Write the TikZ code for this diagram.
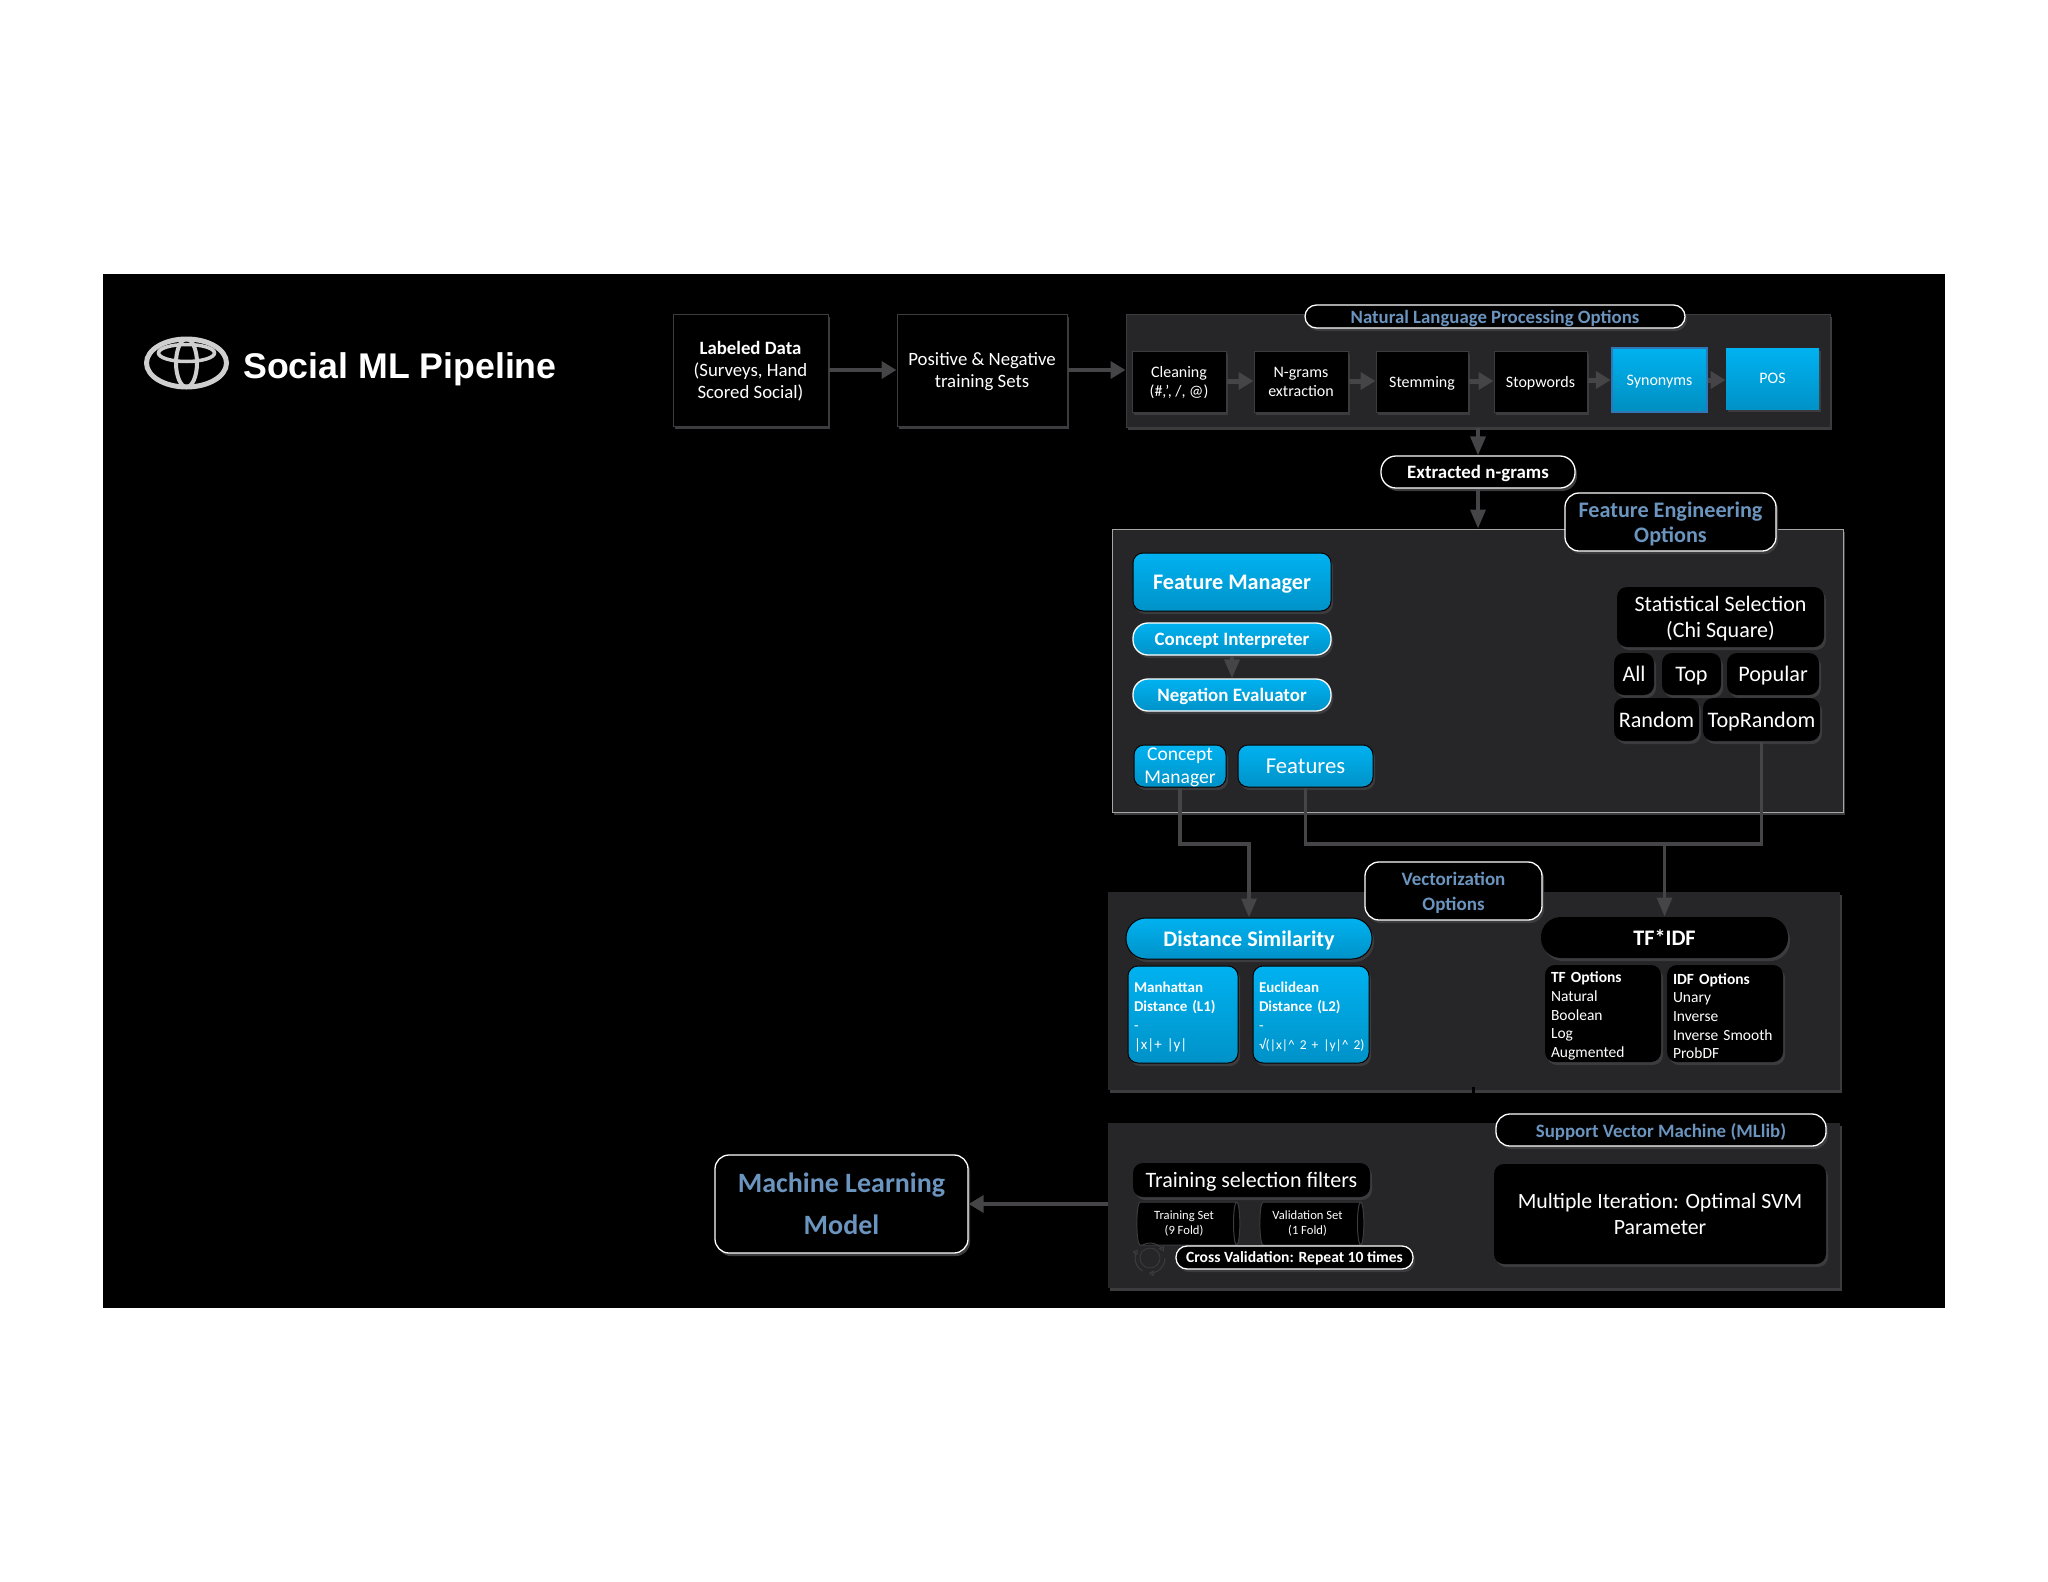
\documentclass[tikz,border=0pt]{standalone}
\usepackage{fontspec}
\setmainfont{Carlito}
\newfontfamily\titlefont{Liberation Sans}
\usetikzlibrary{arrows.meta,shadows,shapes.geometric}
\definecolor{skyb}{HTML}{00B2F0}
\definecolor{skyd}{HTML}{0092C8}
\definecolor{lblue}{HTML}{6B94BE}
\definecolor{panelc}{HTML}{262628}
\definecolor{linec}{HTML}{454547}
\definecolor{shad}{HTML}{3C3C3E}
\definecolor{silver}{HTML}{CFCFCF}
\definecolor{synb}{HTML}{2F78B8}
\newcommand{\fnt}[2]{\fontsize{#1}{#2}\selectfont}
\newcommand{\fnb}[2]{\fontsize{#1}{#2}\selectfont\bfseries}
\newcommand{\tp}{\rule{0pt}{16pt}}
\newcommand{\bx}[7][]{\node[#2,#1,minimum width={(#5-#3)*1pt},minimum height={(#6-#4)*1pt}] (#7) at ({(#3+#5)/2},{(#4+#6)/2})}
\tikzset{
  base/.style={inner sep=0pt,align=center,text=white,line width=1pt,text depth=0pt},
  leftcol/.style={text width=#1,align=left,inner xsep=6pt,text depth={}},
  shd/.style={drop shadow={shadow xshift=2pt,shadow yshift=-3pt,fill=shad,opacity=1}},
  panel/.style={base,fill=panelc,shd},
  blackbox/.style={base,fill=black,draw=shad,shd},
  softbox/.style={base,fill=black,rounded corners=#1,shd},
  softbox/.default=10pt,
  bluebox/.style={base,top color=skyb,bottom color=skyd,draw=black,rounded corners=#1,shd},
  bluebox/.default=10pt,
  tag/.style={base,fill=black,draw=white,line width=1.3pt,rounded corners=#1,shd},
  whitepill/.style={base,top color=skyb,bottom color=skyd,draw=white,line width=1.3pt,rounded corners=#1,shd},
  flow/.style={draw=linec,line width=#1,-{Triangle[length=15pt,width=17pt]}},
  flow/.default=4pt,
  wire/.style={draw=linec,line width=3.5pt},
  wirehead/.style={draw=linec,line width=3.5pt,-{Triangle[length=19pt,width=15pt]}},
  drum/.style={cylinder,shape border rotate=0,aspect=0.25,draw=shad,fill=black,text=white,inner sep=0pt,align=center,line width=1pt,font=\fontsize{12.6}{15}\selectfont},
}
\begin{document}
\begin{tikzpicture}[x=1pt,y=-1pt]
\useasboundingbox[fill=white] (0,0) rectangle (2048,1582);
\fill[black] (103,274) rectangle (1945,1308);

% logo
\draw[silver,line width=5pt] (186.5,363) ellipse [x radius=40,y radius=24];
\draw[silver,line width=3.5pt] (186.5,353) ellipse [x radius=28,y radius=8.5];
\draw[silver,line width=4pt] (186.5,363) ellipse [x radius=10.5,y radius=24];
\node[anchor=base west,inner sep=0pt,text=white,font=\titlefont\bfseries\fontsize{35.7}{40}\selectfont] (title) at (243,378) {Social ML Pipeline};

% panels
\bx[draw=shad]{panel}{1126}{314}{1830}{427}{nlp} {};
\bx[draw=silver!80!black]{panel}{1112}{529}{1843}{812}{feat} {};
\bx{panel}{1108}{892}{1840}{1090}{vect} {};
\bx{panel}{1108}{1123}{1840}{1288}{svm} {};
\fill[black] (1472,1087) rectangle (1475,1094);

% top row
\bx[font=\fnt{18.8}{22.3}]{blackbox}{673}{314}{828}{426}{labeled} {\textbf{Labeled Data}\\(Surveys, Hand\\Scored Social)};
\bx[font=\fnt{18.8}{22.3}]{blackbox}{897}{314}{1067}{426}{posneg} {Positive \& Negative\\training Sets};

\bx[font=\fnt{16}{19}]{blackbox}{1132}{351}{1226}{412}{clean} {Cleaning\\(\#,’, /, @)};
\bx[font=\fnt{16}{19}]{blackbox}{1254}{351}{1348}{412}{ngram} {N-grams\\extraction};
\bx[font=\fnt{16}{19}]{blackbox}{1376}{351}{1468}{412}{stem} {Stemming};
\bx[font=\fnt{16}{19}]{blackbox}{1494}{351}{1587}{412}{stop} {Stopwords};
\bx[font=\fnt{16}{19},draw=synb,line width=2.5pt,top color=skyb,bottom color=skyb!80!black]{base}{1612}{348}{1707}{412}{syn} {Synonyms};
\bx[font=\fnt{16}{19},top color=skyb,bottom color=skyd,shd]{base}{1726}{348}{1819}{409}{pos} {POS};

\bx[font=\fnb{18.8}{21},text=lblue]{tag=11.5pt}{1305}{305}{1685}{328}{nlpt} {Natural Language Processing Options};
\bx[font=\fnb{18.9}{22}]{tag=15pt}{1381}{456}{1575}{488}{extr} {Extracted n-grams};
\bx[font=\fnb{22.2}{25.5},text=lblue]{tag=14pt}{1565}{493}{1776}{551}{featt} {Feature Engineering\\Options};

% feature panel
\bx[font=\fnb{22.2}{26},text=white]{bluebox}{1133}{553}{1331}{611}{fm} {Feature Manager};
\bx[font=\fnb{18.9}{22}]{whitepill=15pt}{1133}{623}{1331}{655}{ci} {Concept Interpreter};
\bx[font=\fnb{18.9}{22}]{whitepill=15pt}{1133}{679}{1331}{711}{ne} {Negation Evaluator};
\bx[font=\fnt{19.5}{23}]{bluebox}{1134}{745}{1226}{787}{cm} {Concept\\Manager};
\bx[font=\fnt{22.7}{26}]{bluebox}{1238}{745}{1373}{787}{feats} {Features};
\bx[font=\fnt{22}{26}]{softbox}{1617}{587}{1824}{647}{stat} {Statistical Selection\\(Chi Square)};
\bx[font=\fnt{22.2}{26}]{softbox}{1614}{653}{1654}{695}{all} {All};
\bx[font=\fnt{22.2}{26}]{softbox}{1662}{653}{1721}{695}{top} {Top};
\bx[font=\fnt{22.2}{26}]{softbox}{1727}{653}{1819}{695}{pop} {Popular};
\bx[font=\fnt{22.2}{26}]{softbox}{1614}{698}{1699}{741}{rand} {Random};
\bx[font=\fnt{22.2}{26}]{softbox}{1703}{698}{1820}{741}{toprand} {TopRandom};

% vectorization panel
\bx[font=\fnt{19}{25},text=lblue]{tag=14pt}{1365}{862}{1542}{920}{vectt} {\textbf{Vectorization}\\\textbf{Options}};
\bx[font=\fnb{22.2}{28}]{bluebox=20pt}{1126}{918}{1372}{959}{dist} {Distance Similarity};
\bx[font=\fnb{22.2}{28},text=white]{softbox=20pt}{1541}{917}{1788}{958}{tfidf} {TF*IDF};
\bx[font=\fnt{15}{19},leftcol=98pt]{bluebox}{1128}{966}{1238}{1063}{man} {\tp\textbf{Manhattan}\\\textbf{Distance (L1)}\\-\\|x|+ |y|};
\bx[font=\fnt{15}{19},leftcol=104pt]{bluebox}{1253}{966}{1369}{1063}{euc} {\tp\textbf{Euclidean}\\\textbf{Distance (L2)}\\-\\\mbox{\fontsize{13.5}{19}\selectfont √(|x|\^{} 2 + |y|\^{} 2)}};
\bx[font=\fnt{15.5}{18.7},leftcol=104pt]{softbox}{1545}{965}{1661}{1062}{tfo} {\tp\textbf{TF Options}\\Natural\\Boolean\\Log\\Augmented};
\bx[font=\fnt{15.5}{18.7},leftcol=104pt]{softbox}{1667}{965}{1783}{1062}{idfo} {\tp\textbf{IDF Options}\\Unary\\Inverse\\Inverse Smooth\\ProbDF};

% svm panel
\bx[font=\fnb{18.9}{22},text=lblue]{tag=14pt}{1496}{1114}{1826}{1146}{svmt} {Support Vector Machine (MLlib)};
\bx[font=\fnb{28}{42},text=lblue]{tag=14pt}{715}{1155}{968}{1253}{ml} {Machine Learning\\Model};
\bx[font=\fnt{22}{26}]{softbox}{1133}{1163}{1370}{1197}{tsf} {Training selection filters};
\bx[font=\fnt{21.8}{26}]{softbox}{1494}{1164}{1826}{1264}{multi} {Multiple Iteration: Optimal SVM\\Parameter};
\node[drum,minimum height=103pt,minimum width=43pt] (trs) at (1186.5,1223.5) {\hspace*{-5pt}Training Set\\\hspace*{-5pt}(9 Fold)};
\node[drum,minimum height=104pt,minimum width=43pt] (vals) at (1310,1223.5) {\hspace*{-5pt}Validation Set\\\hspace*{-5pt}(1 Fold)};
\bx[font=\fnb{15.6}{18}]{tag=11pt}{1176}{1246}{1413}{1269}{cv} {Cross Validation: Repeat 10 times};
% cycle icon
\foreach \a in {0,120,240}
  \draw[shad,line width=1pt,-{Triangle[length=5pt,width=6pt,open]}] (1150,1258) ++(\a:15) arc [start angle=\a,end angle=\a+95,radius=15];
\draw[shad,line width=.8pt] (1150,1258) circle [radius=10];

% connectors
\draw[flow] (labeled) -- (posneg);
\draw[flow] (posneg) -- (nlp.west |- posneg);
\draw[flow=5pt] (clean.east |- 0,381) -- (ngram.west |- 0,381);
\draw[flow=5pt] (ngram.east |- 0,381) -- (stem.west |- 0,381);
\draw[flow=5pt] (stem.east |- 0,381) -- (stop.west |- 0,381);
\draw[flow=5pt] (stop.east |- syn) -- (syn.west);
\draw[flow=5pt] (syn.east) -- (pos.west |- syn);
\draw[wirehead] (extr.north |- nlp.south) -- (extr.north);
\draw[wirehead] (extr.south) -- (extr.south |- feat.north);
\draw[wirehead] (ci.south) -- (ne.north);
\coordinate (jn) at (0,844);
\draw[wire] (feats.south) |- (toprand.south |- jn) -- (toprand.south);
\draw[wirehead] (tfidf.north |- jn) -- (tfidf.north);
\draw[wirehead] (cm.south) |- (dist.north |- jn) -- (dist.north);
\draw[flow] (svm.west |- ml) -- (ml.east);
\end{tikzpicture}
\end{document}
